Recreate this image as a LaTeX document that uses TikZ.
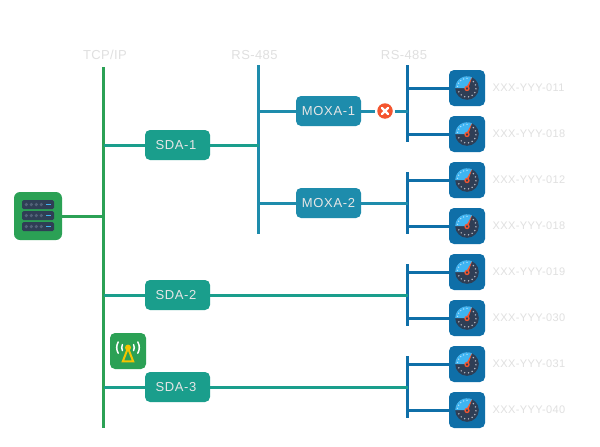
\documentclass[tikz,border=0pt]{standalone}
\usepackage{fontspec}
\setmainfont[LetterSpace=5]{Liberation Sans}
\newfontfamily\headfont[LetterSpace=3]{Liberation Sans}
\newfontfamily\devfont[LetterSpace=3.5]{Liberation Sans}
\definecolor{tcpgreen}{HTML}{2BA155}
\definecolor{sdateal}{HTML}{1A9E8C}
\definecolor{moxablue}{HTML}{1E8CAC}
\definecolor{devblue}{HTML}{0F6FA8}
\definecolor{slatedark}{HTML}{2F3E55}
\definecolor{slatedot}{HTML}{526279}
\definecolor{skyblue}{HTML}{3FB4F2}
\definecolor{alertred}{HTML}{F4552F}
\definecolor{labelgray}{HTML}{E0E0E0}
\definecolor{boxtext}{HTML}{E6E6E6}
\definecolor{signalyellow}{HTML}{F5C400}
\usetikzlibrary{calc}
\tikzset{
  x=1pt,y=1pt,
  busline/.style={line width=3pt,line cap=butt},
  wire/.style={line width=3pt,transform canvas={yshift=-0.5pt}},
  sdabox/.style={fill=sdateal,rounded corners=5pt,minimum width=65pt,minimum height=30pt,inner sep=0pt,text=boxtext,font=\fontsize{13}{15}\selectfont},
  moxabox/.style={sdabox,fill=moxablue},
  devbox/.style={fill=devblue,rounded corners=5pt,minimum width=36pt,minimum height=36pt,inner sep=0pt},
  heading/.style={text=labelgray,inner sep=0pt,font=\headfont\fontsize{13}{15}\selectfont},
  devlabel/.style={text=labelgray,inner sep=0pt,anchor=west,font=\devfont\fontsize{11}{13}\selectfont},
  gauge/.pic={
    \fill[slatedark] (0,0) circle (11.8);
    \fill[skyblue] (0,0) -- (180:11.8) arc (180:65:11.8) -- cycle;
    \foreach \a in {170,150,130,110,90} \fill[white!60!skyblue] (\a:9.6) circle (0.75);
    \foreach \a in {45,20,-5,-30,-55,-80,-105,-130,-155} \fill[white!65!slatedark] (\a:9) circle (0.8);
    \fill[alertred] (-1.2,-0.4) -- (65:12) -- (1.6,0.6) -- cycle;
    \draw[alertred,line width=1.3pt,fill=slatedark] (0,-0.5) circle (2);
  }
}
\begin{document}
\begin{tikzpicture}
\useasboundingbox[fill=white] (0,0) rectangle (600,-447);

% Headings
\node[heading] (h1) at (105,-55) {TCP/IP};
\node[heading] (h2) at (254.5,-55) {RS-485};
\node[heading] (h3) at (404,-55) {RS-485};

% Buses
\coordinate (tcpT) at (103.5,-67);  \coordinate (tcpB) at (103.5,-428);
\coordinate (rsT) at (258.5,-65);   \coordinate (rsB) at (258.5,-234);
\coordinate (b1T) at (407.5,-65); \coordinate (b1B) at (407.5,-142);
\coordinate (b2T) at (407.5,-172);\coordinate (b2B) at (407.5,-234);
\coordinate (b3T) at (407.5,-264);\coordinate (b3B) at (407.5,-326);
\coordinate (b4T) at (407.5,-356);\coordinate (b4B) at (407.5,-418);

% Nodes
\node[fill=tcpgreen,rounded corners=6pt,minimum width=48pt,minimum height=48pt,inner sep=0pt] (server) at (38,-216) {};
\node[sdabox] (sda1) at (177.5,-145) {\kern-3pt SDA-1};
\node[sdabox] (sda2) at (177.5,-295) {\kern-3pt SDA-2};
\node[sdabox] (sda3) at (177.5,-387) {\kern-3pt SDA-3};
\node[moxabox] (moxa1) at (328.5,-111) {MOXA-1};
\node[moxabox] (moxa2) at (328.5,-203) {MOXA-2};
\node[fill=alertred,circle,minimum size=15.5pt,inner sep=0pt] (fault) at (385,-111) {};
\node[fill=tcpgreen,rounded corners=5pt,minimum width=36pt,minimum height=36pt,inner sep=0pt] (radio) at (128,-351) {};

\node[devbox] (d1) at (467,-88) {};
\node[devbox] (d2) at (467,-134) {};
\node[devbox] (d3) at (467,-180) {};
\node[devbox] (d4) at (467,-226) {};
\node[devbox] (d5) at (467,-272) {};
\node[devbox] (d6) at (467,-318) {};
\node[devbox] (d7) at (467,-364) {};
\node[devbox] (d8) at (467,-410) {};

\node[devlabel] (l1) at (492.5,-88) {XXX-YYY-011};
\node[devlabel] (l2) at (492.5,-134) {XXX-YYY-018};
\node[devlabel] (l3) at (492.5,-180) {XXX-YYY-012};
\node[devlabel] (l4) at (492.5,-226) {XXX-YYY-018};
\node[devlabel] (l5) at (492.5,-272) {XXX-YYY-019};
\node[devlabel] (l6) at (492.5,-318) {XXX-YYY-030};
\node[devlabel] (l7) at (492.5,-364) {XXX-YYY-031};
\node[devlabel] (l8) at (492.5,-410) {XXX-YYY-040};

% Bus lines
\draw[busline,tcpgreen] (tcpT) -- (tcpB);
\draw[busline,moxablue] (rsT) -- (rsB);
\draw[busline,devblue] (b1T) -- (b1B);
\draw[busline,devblue] (b2T) -- (b2B);
\draw[busline,devblue] (b3T) -- (b3B);
\draw[busline,devblue] (b4T) -- (b4B);

% Connectors
\draw[wire,tcpgreen] (server.east) -- (server.east -| tcpT);
\draw[wire,sdateal] (sda1.west) -- (sda1.west -| tcpT);
\draw[wire,sdateal] (sda2.west) -- (sda2.west -| tcpT);
\draw[wire,sdateal] (sda3.west) -- (sda3.west -| tcpT);
\draw[wire,sdateal] (sda1.east) -- (sda1.east -| rsT);
\draw[wire,sdateal] (sda2.east) -- (sda2.east -| b3T);
\draw[wire,sdateal] (sda3.east) -- (sda3.east -| b4T);
\draw[wire,moxablue] (moxa1.west) -- (moxa1.west -| rsT);
\draw[wire,moxablue] (moxa2.west) -- (moxa2.west -| rsT);
\draw[wire,moxablue] (moxa2.east) -- (moxa2.east -| b2T);
\draw[wire,moxablue,shorten >=2pt] (moxa1.east) -- (fault);
\draw[wire,moxablue,shorten <=2pt] (fault.east) -- (fault.east -| b1T);
\draw[wire,devblue] (d1.west) -- (d1.west -| b1T);
\draw[wire,devblue] (d2.west) -- (d2.west -| b1T);
\draw[wire,devblue] (d3.west) -- (d3.west -| b2T);
\draw[wire,devblue] (d4.west) -- (d4.west -| b2T);
\draw[wire,devblue] (d5.west) -- (d5.west -| b3T);
\draw[wire,devblue] (d6.west) -- (d6.west -| b3T);
\draw[wire,devblue] (d7.west) -- (d7.west -| b4T);
\draw[wire,devblue] (d8.west) -- (d8.west -| b4T);

% Fault cross
\draw[white,line width=2.4pt,line cap=round] ($(fault)+(-3,-3)$) -- ($(fault)+(3,3)$);
\draw[white,line width=2.4pt,line cap=round] ($(fault)+(-3,3)$) -- ($(fault)+(3,-3)$);

% Gauges
\foreach \n in {d1,d2,d3,d4,d5,d6,d7,d8} \pic at (\n) {gauge};

% Server icon
\foreach \y in {-204.5,-215.5,-226.5}{
  \fill[slatedark,rounded corners=1.5pt] (22,\y+4.5) rectangle (54,\y-4.5);
  \foreach \x in {26.3,31.3,36.3,41.3} \fill[slatedot] (\x,\y) circle (1.8);
  \fill[skyblue] (46,\y+0.6) rectangle (51,\y-0.6);
}

% Radio icon
\draw[signalyellow,line width=2pt,line join=miter] (128,-348) -- (122.8,-361.4) -- (133.2,-361.4) -- cycle;
\fill[signalyellow] (128,-347.6) circle (3);
\begin{scope}[white,line width=1.5pt,line cap=round]
\draw ($(128,-347.6)+(152:6.3)$) arc (152:208:6.3);
\draw ($(128,-347.6)+(28:6.3)$) arc (28:-28:6.3);
\draw ($(128,-347.6)+(150:11.3)$) arc (150:210:11.3);
\draw ($(128,-347.6)+(30:11.3)$) arc (30:-30:11.3);
\end{scope}
\end{tikzpicture}
\end{document}
